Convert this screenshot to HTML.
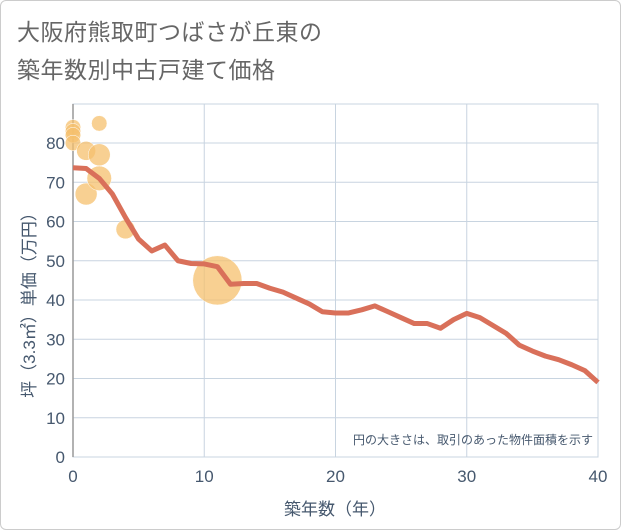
<!DOCTYPE html>
<html><head><meta charset="utf-8"><style>
body{margin:0;background:#fff;font-family:"Liberation Sans","Noto Sans CJK JP",sans-serif}
#wrap{position:relative;width:619px;height:528px;border:1px solid #ccc;border-radius:6px;overflow:hidden}
.t{position:absolute;left:16px;font-size:23px;color:#666;letter-spacing:0.5px}
</style></head><body>
<div id="wrap">
<div class="t" style="top:12px">大阪府熊取町つばさが丘東の</div>
<div class="t" style="top:50px">築年数別中古戸建て価格</div>
<svg id="c" width="621" height="530" style="position:absolute;left:0;top:0"></svg>
</div>
<script>
const lineYears=[0,1,2,3,4,5,6,7,8,9,10,11,12,13,14,15,16,17,18,19,20,21,22,23,24,25,26,27,28,29,30,31,32,33,34,35,36,37,38,39,40];
const lineValues=[73.7,73.5,71,67,61,55.5,52.5,54,50,49.3,49.2,48.5,44,44.2,44.2,43,42,40.5,39,37,36.7,36.7,37.5,38.5,37,35.5,34,34,32.8,35,36.6,35.5,33.5,31.5,28.5,27,25.7,24.8,23.5,22,19];
const bubbleYears=[0,0,0,0,1,1,2,2,2,4,11];
const bubbleValues=[84,83,82,80,78,67,85,77,71,58,45];
const bubbleSizes=[2,2,2,2,3,4,2,4,5,3,20];
const xTicks=[0,10,20,30,40];
const yTicks=[0,10,20,30,40,50,60,70,80];
const NS="http://www.w3.org/2000/svg";
const svg=document.getElementById('c');
const X0=72,X1=597,Y0=456,YT=103;
const TC='#46586e';
const xs=v=>X0+(X1-X0)*v/40;
const ys=v=>Y0-v*3.925;
function mk(t,a){const e=document.createElementNS(NS,t);for(const k in a)e.setAttribute(k,a[k]);svg.appendChild(e);return e;}
xTicks.forEach(v=>{
 const l=mk('line',{x1:xs(v),x2:xs(v),y1:YT,y2:Y0,stroke:'#c8d4e0','stroke-width':1});
 
 
 const t=mk('text',{x:xs(v),y:481,'text-anchor':'middle','font-size':17,fill:TC});t.textContent=v;
 
 
});
yTicks.forEach(v=>{
 const l=mk('line',{x1:X0,x2:X1,y1:ys(v),y2:ys(v),stroke:'#c8d4e0','stroke-width':1});
 
 
 const t=mk('text',{x:64,y:ys(v)+6,'text-anchor':'end','font-size':17,fill:TC});t.textContent=v;
 
 
});
const f=mk('rect',{x:X0,y:YT,width:X1-X0,height:Y0-YT,fill:'none',stroke:'#c8d4e0'});


const ax=mk('line',{x1:X0,x2:X0,y1:YT,y2:Y0,stroke:'#999','stroke-width':1.5});


bubbleYears.forEach((v,i)=>{
 const c=mk('circle',{cx:xs(v),cy:ys(bubbleValues[i]),r:5.5*Math.sqrt(bubbleSizes[i]),fill:'#f5c06e','fill-opacity':0.75,stroke:'#fff','stroke-width':0.5});
 
 
});
const p=mk('polyline',{points:lineYears.map((v,i)=>xs(v)+','+ys(lineValues[i])).join(' '),fill:'none',stroke:'#d9705a','stroke-width':5,'stroke-linejoin':'round'});


const n=mk('text',{x:592,y:443,'text-anchor':'end','font-size':12,fill:TC});n.textContent='円の大きさは、取引のあった物件面積を示す';


const xt=mk('text',{x:334,y:514,'text-anchor':'middle','font-size':17,fill:TC});xt.textContent='築年数（年）';


const yt=mk('text',{x:0,y:0,'text-anchor':'middle','font-size':17,fill:TC,transform:'translate(34,300) rotate(-90)'});yt.textContent='坪（3.3㎡）単価（万円）';


</script>
</body></html>
